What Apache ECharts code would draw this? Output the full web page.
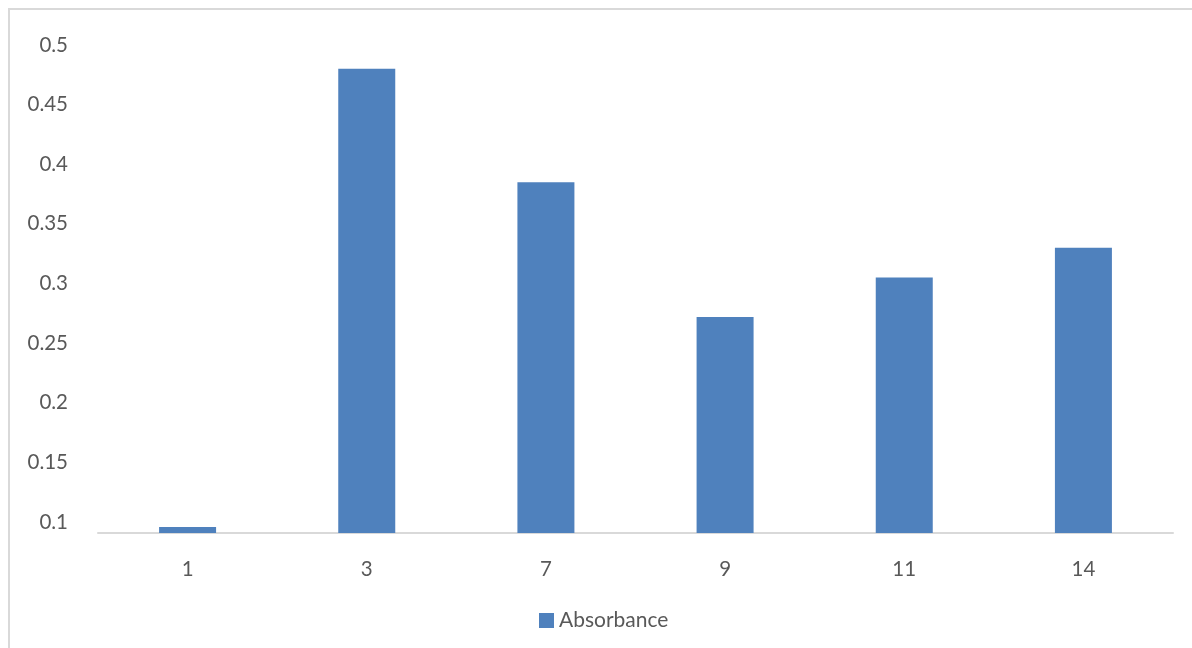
<!DOCTYPE html>
<html>
<head>
<meta charset="utf-8">
<title>Absorbance</title>
<script src="https://cdn.jsdelivr.net/npm/echarts@6/dist/echarts.min.js"></script>
<style>
  html, body { margin: 0; padding: 0; background: #ffffff; }
  #chart { width: 1192px; height: 648px; }
</style>
</head>
<body>
<div id="chart"></div>
<script>
// Sample days on the category axis
const days = ['1', '3', '7', '9', '11', '14'];
// Measured absorbance for each day
const absorbance = [0.0958, 0.480, 0.385, 0.272, 0.305, 0.330];
// Value axis tick labels
const yTicks = [0.1, 0.15, 0.2, 0.25, 0.3, 0.35, 0.4, 0.45, 0.5];
// Value axis extent
const yMin = 0.0908;
const yMax = 0.5;

const textColor = '#595959';
const fontFamily = 'Lato, "Open Sans", sans-serif';

const chart = echarts.init(document.getElementById('chart'), null, { renderer: 'canvas' });

chart.setOption({
  backgroundColor: '#ffffff',
  animation: false,
  textStyle: { fontFamily: fontFamily, color: textColor },
  graphic: [{
    type: 'rect',
    silent: true,
    shape: { x: 9, y: 9, width: 1200, height: 700 },
    style: { fill: 'none', stroke: '#d9d9d9', lineWidth: 2 }
  }],
  grid: {
    left: 98,
    right: 19,
    top: 45,
    bottom: 115,
    outerBoundsMode: 'none'
  },
  legend: {
    left: 539,
    top: 610,
    padding: 0,
    icon: 'rect',
    itemWidth: 15,
    itemHeight: 15,
    itemGap: 10,
    textStyle: { fontFamily: fontFamily, fontSize: 21, color: textColor },
    data: ['Absorbance']
  },
  xAxis: {
    type: 'category',
    data: days,
    axisLine: { show: true, lineStyle: { color: '#d9d9d9', width: 2 } },
    axisTick: { show: false },
    axisLabel: { fontFamily: fontFamily, fontSize: 20.5, color: textColor, margin: 26 },
    splitLine: { show: false }
  },
  yAxis: {
    type: 'value',
    min: yMin,
    max: yMax,
    axisLine: { show: false },
    axisTick: { show: false },
    splitLine: { show: false },
    axisLabel: {
      fontFamily: fontFamily,
      fontSize: 20.5,
      color: textColor,
      margin: 30,
      customValues: yTicks,
      formatter: function (v) { return String(Math.round(v * 100) / 100); }
    }
  },
  series: [{
    name: 'Absorbance',
    type: 'bar',
    data: absorbance,
    barWidth: 57,
    itemStyle: { color: '#4f81bd' }
  }]
});
</script>
</body>
</html>
